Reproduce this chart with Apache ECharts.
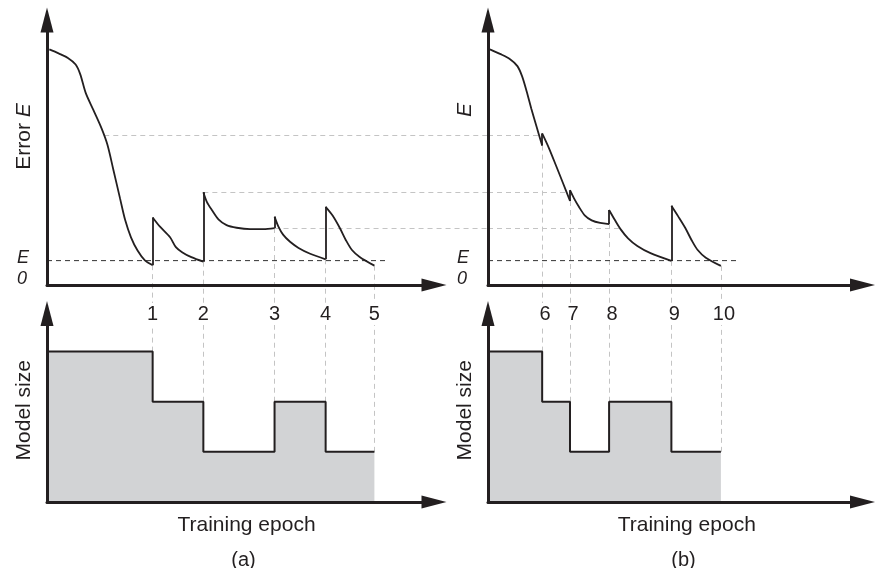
<!DOCTYPE html>
<html>
<head>
<meta charset="utf-8">
<script src="https://cdn.jsdelivr.net/npm/echarts@6/dist/echarts.min.js"></script>
<style>
  html, body { margin: 0; padding: 0; background: #fff; }
  #chart { width: 875px; height: 568px; }
</style>
</head>
<body>
<div id="chart"></div>
<script>
// Training error E (top) and model size (bottom) against training epoch,
// for two growth/pruning schedules (a) and (b).

// ---- schedule (a): error, one run of [epoch, error] points per stage ----
const errA1 = [[0.6, 88.9], [3.0, 87.4], [5.4, 85.7], [7.4, 83.2], [8.6, 79.5], [10.0, 72.5],
               [12.0, 66.0], [14.1, 59.1], [15.6, 53.0], [17.1, 43.8], [18.9, 32.5], [20.2, 24.5],
               [21.7, 18.0], [23.4, 13.0], [25.3, 9.3], [27.3, 7.5]];
const errA2 = [[27.3, 25.5], [29.2, 22.0], [31.8, 18.0], [33.3, 14.3], [35.0, 12.3], [37.3, 10.5],
               [40.4, 8.8]];
const errA3 = [[40.4, 35.0], [41.3, 31.4], [42.6, 28.3], [44.3, 24.8], [46.4, 22.6], [49.0, 21.6],
               [52.5, 21.1], [55.9, 21.1], [58.8, 21.5]];
const errA4 = [[58.8, 25.8], [59.8, 22.0], [61.0, 19.0], [62.8, 16.3], [65.0, 14.0], [68.0, 11.8],
               [72.0, 9.7]];
const errA5 = [[72.0, 29.5], [73.8, 26.2], [75.7, 21.4], [77.2, 17.0], [78.8, 13.2], [80.8, 10.6],
               [84.6, 7.3]];

// ---- schedule (b) ----
const errB1 = [[0.5, 88.9], [3.1, 87.2], [5.7, 85.2], [7.6, 82.6], [8.8, 78.8], [10.0, 73.0],
               [11.2, 66.5], [12.6, 59.5], [14.0, 52.6]];
const errB2 = [[14.0, 57.2], [15.8, 51.5], [17.6, 45.0], [19.4, 38.4], [21.2, 31.7]];
const errB3 = [[21.2, 35.8], [22.2, 32.8], [23.5, 29.5], [25.0, 26.3], [26.8, 24.4], [29.0, 23.4],
               [31.3, 23.0]];
const errB4 = [[31.3, 28.3], [32.8, 24.5], [34.3, 21.0], [36.2, 17.6], [38.6, 14.7], [42.0, 12.0],
               [47.4, 9.1]];
const errB5 = [[47.4, 29.9], [49.2, 25.8], [51.0, 21.5], [52.6, 17.0], [54.2, 13.2], [56.3, 10.3],
               [60.2, 7.2]];

// epochs where the model is resized, with their tick labels
const epochsA = [27.3, 40.4, 58.8, 72.0, 84.6];
const epochLabelsA = ['1', '2', '3', '4', '5'];
const epochsB = [14.0, 21.2, 31.3, 47.4, 60.2];
const epochLabelsB = ['6', '7', '8', '9', '10'];

// model size held over each stage
const sizeA = [3, 2, 1, 2, 1];
const sizeB = [3, 2, 1, 2, 1];

// target error E0 and where its guide stops
const E0 = 9.2;
const e0EndA = 88.1;
const e0EndB = 65.1;

// error levels carried across from (a) to (b)
const refLevels = [56.6, 35.0, 21.5];
const refFromA = [14.8, 40.4, 58.8];
const refToB = [13.4, 21.2, 34.9];

// ---- styling / layout ----
const INK = '#231f20';
const GUIDE = '#c4c4c4';
const FILL = '#d2d3d5';
const FONT = '"Liberation Sans", Arial, Helvetica, sans-serif';

const GRIDS = [
  { left: 47,  top: 20,    width: 387,   height: 265 },   // error (a)
  { left: 488, top: 20,    width: 374.5, height: 265 },   // error (b)
  { left: 47,  top: 313.5, width: 387,   height: 188.5 }, // size (a)
  { left: 488, top: 313.5, width: 374.5, height: 188.5 }  // size (b)
];
const X_MAX = [100, 96.8, 100, 96.8];
const ERR_MAX = 100;
const SIZE_MAX = 3.76;
const LABEL_Y = 3.75;

// how far a size-panel guide must rise to meet the error axis above it
const REACH = (GRIDS[2].top + GRIDS[2].height - (GRIDS[0].top + GRIDS[0].height)) / GRIDS[2].height * SIZE_MAX;
// x (in panel (a) units) of the y axis of panel (b)
const CROSS_X = (GRIDS[1].left - GRIDS[0].left) / GRIDS[0].width * X_MAX[0];

const guideStyle = { color: GUIDE, width: 1, type: [5, 4], opacity: 1 };

function axisLineOpt() {
  return {
    show: true, onZero: false,
    symbol: ['none', 'triangle'], symbolSize: [13, 25],
    lineStyle: { color: INK, width: 3 }
  };
}

function xAxisOpt(i, name, padLeft) {
  const o = {
    type: 'value', gridIndex: i, min: 0, max: X_MAX[i], z: 5,
    axisLine: axisLineOpt(), axisTick: { show: false }, axisLabel: { show: false },
    splitLine: { show: false }, nameMoveOverlap: false
  };
  if (name) {
    o.name = name;
    o.nameLocation = 'middle';
    o.nameGap = 13;
    o.nameTextStyle = { fontFamily: FONT, fontSize: 21, color: INK, padding: [0, 0, 0, padLeft] };
  }
  return o;
}

function yAxisOpt(i, max, name, pad, rich, e0Margin) {
  const o = {
    type: 'value', gridIndex: i, min: 0, max: max, z: 5,
    axisLine: axisLineOpt(), axisTick: { show: false },
    splitLine: { show: false },
    name: name, nameLocation: 'middle', nameGap: 12, nameMoveOverlap: false,
    nameTextStyle: { fontFamily: FONT, fontSize: 21, color: INK, padding: pad, rich: rich },
    axisLabel: { show: false }
  };
  if (e0Margin != null) {
    o.axisLabel = {
      show: true, customValues: [E0], margin: e0Margin, align: 'left',
      padding: [15, 0, 0, 0],
      formatter: function () { return '{e|E}\n{z|0}'; },
      rich: {
        e: { fontFamily: FONT, fontStyle: 'italic', fontSize: 18, lineHeight: 21, color: INK },
        z: { fontFamily: FONT, fontStyle: 'italic', fontSize: 18, lineHeight: 21, color: INK }
      }
    };
  }
  return o;
}

const italicRich = {
  t: { fontFamily: FONT, fontSize: 21, color: INK },
  i: { fontFamily: FONT, fontSize: 21, color: INK, fontStyle: 'italic' }
};

function panelSeries(t, b, segs, epochs, labels, sizes, e0End, labelShift) {
  const out = [];

  // error curve, one smooth run per stage
  segs.forEach(function (seg) {
    out.push({
      type: 'line', xAxisIndex: t, yAxisIndex: t, data: seg,
      smooth: 0.3, symbol: 'none', silent: true, z: 4,
      lineStyle: { color: INK, width: 1.8 }
    });
  });

  // vertical jumps in error when the model is resized
  const jumps = [];
  for (let i = 1; i < segs.length; i++) {
    const p = segs[i - 1][segs[i - 1].length - 1];
    const q = segs[i][0];
    jumps.push({ coords: [[p[0], p[1]], [q[0], q[1]]] });
  }
  out.push({
    type: 'lines', coordinateSystem: 'cartesian2d', xAxisIndex: t, yAxisIndex: t,
    data: jumps, z: 4, silent: true,
    lineStyle: { color: INK, width: 1.8, opacity: 1 }
  });

  // target error E0
  out.push({
    type: 'line', xAxisIndex: t, yAxisIndex: t, data: [[0, E0], [e0End, E0]],
    symbol: 'none', silent: true, z: 3,
    lineStyle: { color: '#333333', width: 1, type: [5, 4] }
  });

  // guides from the curve down to the error axis
  out.push({
    type: 'lines', coordinateSystem: 'cartesian2d', xAxisIndex: t, yAxisIndex: t,
    silent: true, z: 1, clip: false, lineStyle: guideStyle,
    data: epochs.map(function (e, i) {
      const seg = segs[i];
      return { coords: [[e, seg[seg.length - 1][1]], [e, 0]] };
    })
  });

  // guides from the size steps up to the error axis
  out.push({
    type: 'lines', coordinateSystem: 'cartesian2d', xAxisIndex: b, yAxisIndex: b,
    silent: true, z: 1, clip: false, lineStyle: guideStyle,
    data: epochs.map(function (e, i) {
      const next = i + 1 < sizes.length ? sizes[i + 1] : 0;
      return { coords: [[e, Math.max(sizes[i], next)], [e, REACH]] };
    })
  });

  // model size as a filled step line
  const steps = [[0, sizes[0]]];
  epochs.forEach(function (e, i) {
    steps.push([e, i + 1 < sizes.length ? sizes[i + 1] : sizes[i]]);
  });
  out.push({
    type: 'line', xAxisIndex: b, yAxisIndex: b, data: steps, step: 'end',
    symbol: 'none', silent: true, z: 2,
    lineStyle: { color: INK, width: 2 },
    areaStyle: { color: FILL, opacity: 1 }
  });

  // epoch numbers
  out.push({
    type: 'scatter', xAxisIndex: b, yAxisIndex: b, silent: true, z: 6,
    symbolSize: 1, itemStyle: { color: 'rgba(255,255,255,0)', opacity: 1 },
    data: epochs.map(function (e, i) { return { value: [e, LABEL_Y], name: labels[i] }; }),
    label: {
      show: true, position: 'inside', formatter: '{b}', offset: [labelShift, 0],
      fontFamily: FONT, fontSize: 20, fontWeight: 'normal', color: INK, opacity: 1,
      textBorderWidth: 0, textShadowBlur: 0,
      backgroundColor: '#fff', padding: [1, 1]
    }
  });

  return out;
}

const series = []
  .concat(panelSeries(0, 2, [errA1, errA2, errA3, errA4, errA5], epochsA, epochLabelsA, sizeA, e0EndA, 0))
  .concat(panelSeries(1, 3, [errB1, errB2, errB3, errB4, errB5], epochsB, epochLabelsB, sizeB, e0EndB, 3));

// error levels carried across both error panels
series.push({
  type: 'lines', coordinateSystem: 'cartesian2d', xAxisIndex: 0, yAxisIndex: 0,
  silent: true, z: 1, clip: false, lineStyle: guideStyle,
  data: refLevels.map(function (l, i) { return { coords: [[refFromA[i], l], [CROSS_X, l]] }; })
});
series.push({
  type: 'lines', coordinateSystem: 'cartesian2d', xAxisIndex: 1, yAxisIndex: 1,
  silent: true, z: 1, clip: false, lineStyle: guideStyle,
  data: refLevels.map(function (l, i) { return { coords: [[0, l], [refToB[i], l]] }; })
});

const chart = echarts.init(document.getElementById('chart'), null, { renderer: 'canvas' });
chart.setOption({
  animation: false,
  backgroundColor: '#fff',
  title: [
    { text: '(a)', left: 238.5, top: 545, textAlign: 'center',
      textStyle: { fontFamily: FONT, fontSize: 20, fontWeight: 'normal', color: INK } },
    { text: '(b)', left: 678.5, top: 545, textAlign: 'center',
      textStyle: { fontFamily: FONT, fontSize: 20, fontWeight: 'normal', color: INK } }
  ],
  grid: GRIDS.map(function (g) {
    return Object.assign({ containLabel: false, outerBoundsMode: 'none' }, g);
  }),
  xAxis: [
    xAxisOpt(0), xAxisOpt(1),
    xAxisOpt(2, 'Training epoch', 12), xAxisOpt(3, 'Training epoch', 23)
  ],
  yAxis: [
    yAxisOpt(0, ERR_MAX, '{t|Error }{i|E}', [0, 0, 0, 32], italicRich, 30),
    yAxisOpt(1, ERR_MAX, '{i|E}', [0, 0, 0, 85], italicRich, 31),
    yAxisOpt(2, SIZE_MAX, 'Model size', [0, 5, 0, 0], null, null),
    yAxisOpt(3, SIZE_MAX, 'Model size', [0, 5, 0, 0], null, null)
  ],
  series: series
});
</script>
</body>
</html>
